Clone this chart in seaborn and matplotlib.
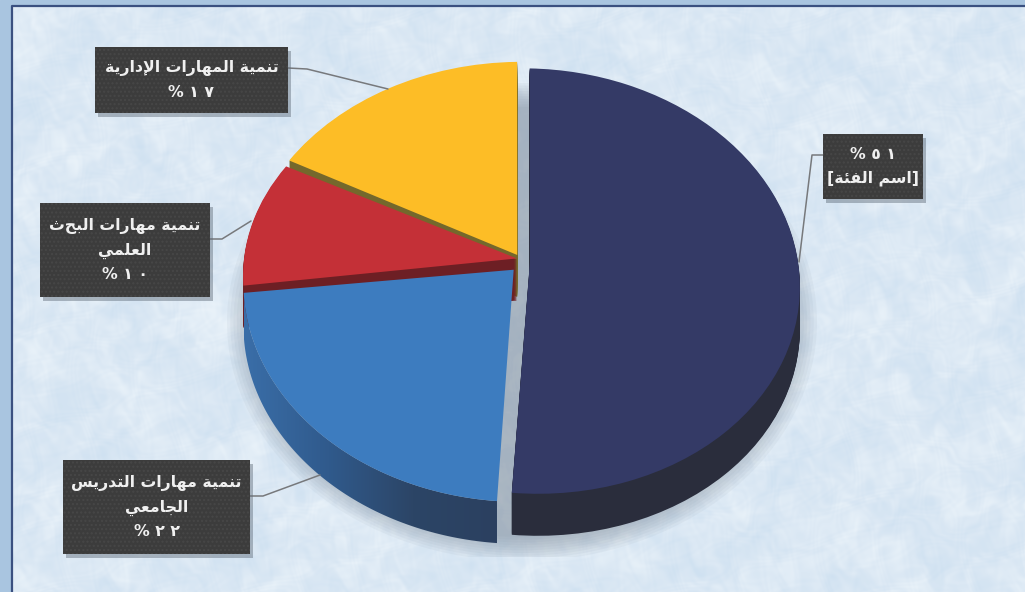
import numpy as np
import matplotlib
matplotlib.use("Agg")
import matplotlib.pyplot as plt
from matplotlib.colors import LinearSegmentedColormap
from matplotlib.patches import Rectangle, Ellipse, Polygon
from matplotlib.transforms import Transform, Affine2D
import seaborn as sns

# ---- data ----
categories = [
    ["[اسم الفئة]"],
    ["تنمية مهارات التدريس", "الجامعي"],
    ["تنمية مهارات البحث", "العلمي"],
    ["تنمية المهارات الإدارية"],
]
values = [51, 22, 10, 17]
percent_first = [True, False, False, False]
explode = [0.012, 0.018, 0.015, 0.028]
top_colors = ["#343a66", "#3d7cbf", "#c43037", "#fdbd26"]
wall_colors = ["#2a2d3c", "#2c4566", "#6d1f24", "#74682c"]
label_boxes = [(823, 134, 100, 65), (63, 460, 187, 94), (40, 203, 170, 94), (95, 47, 193, 66)]
leaders = [
    [(823, 155), (812, 155), (799, 262)],
    [(250, 496), (263, 496), (320, 475)],
    [(210, 239), (222, 239), (251, 221)],
    [(288, 68), (307, 69), (388, 89)],
]
# per-slice perspective correction about the pie centre: sx, a, e, b, sy, f
slice_tweaks = [
    (0.975, 0.0333, 6.7, 0.0, 1.0, 0.0),
    (0.98, 0.043, -3.0, -0.007, 1.0, 5.0),
    (0.995, 0.049, 1.0, -0.025, 0.96, -3.0),
    (0.99, 0.036, 1.1, -0.0308, 1.0, -2.0),
]

# ---- minimal Arabic shaping (visual-order presentation forms) ----
FORMS = {
    "ا": "ﺍﺎ", "إ": "ﺇﺈ", "د": "ﺩﺪ", "ر": "ﺭﺮ", "ة": "ﺓﺔ",
    "ت": "ﺕﺖﺗﺘ", "ن": "ﻥﻦﻧﻨ", "م": "ﻡﻢﻣﻤ", "ي": "ﻱﻲﻳﻴ", "ل": "ﻝﻞﻟﻠ",
    "ه": "ﻩﻪﻫﻬ", "ب": "ﺏﺐﺑﺒ", "ح": "ﺡﺢﺣﺤ", "ع": "ﻉﻊﻋﻌ", "ج": "ﺝﺞﺟﺠ",
    "س": "ﺱﺲﺳﺴ", "ف": "ﻑﻒﻓﻔ", "ئ": "ﺉﺊﺋﺌ",
}
LAM_ALEF = {"ا": "ﻻﻼ", "إ": "ﻹﻺ"}


def shape(text):
    out = []
    i = 0
    prev_joins = False
    while i < len(text):
        c = text[i]
        if c not in FORMS:
            out.append(c)
            prev_joins = False
            i += 1
            continue
        if c == "ل" and i + 1 < len(text) and text[i + 1] in LAM_ALEF:
            out.append(LAM_ALEF[text[i + 1]][1 if prev_joins else 0])
            prev_joins = False
            i += 2
            continue
        f = FORMS[c]
        next_ok = i + 1 < len(text) and text[i + 1] in FORMS
        can_join = len(f) == 4
        if prev_joins and can_join and next_ok:
            out.append(f[3])
        elif prev_joins:
            out.append(f[1])
        elif can_join and next_ok:
            out.append(f[2])
        else:
            out.append(f[0])
        prev_joins = can_join
        i += 1
    return "".join(out)[::-1]


def visual_line(line):
    if line.startswith("["):
        return "[" + shape(line[1:-1]) + "]"
    return shape(line)


def pct_line(v):
    digits = str(v).translate(str.maketrans("0123456789", "٠١٢٣٤٥٦٧٨٩"))
    return "% " + " ".join(digits)


# ---- perspective disc ----
class Perspective(Transform):
    input_dims = 2
    output_dims = 2
    is_separable = False
    has_inverse = False

    def __init__(self, cx, cy, rx, ry, k):
        super().__init__()
        self.p = (cx, cy, rx, ry, k)

    def transform_non_affine(self, xy):
        cx, cy, rx, ry, k = self.p
        xy = np.asarray(xy, dtype=float)
        w = 1 + k * xy[:, 1]
        return np.column_stack([cx + rx * xy[:, 0] / w, cy - ry * xy[:, 1] / w])


CX, CY = 520, 262


def tweak(params):
    sx, a, e, b, sy, f = params
    return (Affine2D().translate(-CX, -CY)
            + Affine2D.from_values(sx, b, a, sy, e, f)
            + Affine2D().translate(CX, CY))


sns.set_theme(style="white")
plt.rcParams["font.family"] = ["DejaVu Sans"]
fig = plt.figure(figsize=(10.25, 5.92), dpi=100)
ax = fig.add_axes([0, 0, 1, 1])
W, H = 1025, 592

# ---- background ----
ax.add_patch(Rectangle((0, 0), W, H, color="#a9c5e0", zorder=0))
yy, xx = np.mgrid[0:H:1, 0:W:1]
wx = 9 * np.sin(yy / 14 + 2 * np.sin(xx / 33)) + 6 * np.sin(yy / 5.3 + xx / 17)
wy = 9 * np.sin(xx / 12 + 2 * np.sin(yy / 27)) + 6 * np.sin(xx / 4.7 - yy / 19)
tex = (np.sin((xx + wx) / 37 + np.sin((yy + wy) / 23) * 2.7)
       + np.sin((yy + wy) / 29 + np.sin((xx + wx) / 41) * 3.1)
       + 0.7 * np.sin((xx + wx + 0.6 * yy) / 7 + 3 * np.sin((xx + wy) / 19 + yy / 31))
       + 0.7 * np.sin((yy + wy - 0.7 * xx) / 6 + 3 * np.sin((yy + wx) / 13 - xx / 27))
       + 0.4 * np.sin((xx + 2 * wy) / 2.7) + 0.4 * np.sin((yy + 2 * wx) / 2.3))
bg_cmap = LinearSegmentedColormap.from_list("bg", ["#cfe1f1", "#dbe8f4", "#e9f2f9"])
ax.imshow(tex, extent=(12, W, H, 6), cmap=bg_cmap, aspect="auto", zorder=1, interpolation="bilinear")
ax.plot([11.5, 11.5, W], [H, 5.5, 5.5], color="#3a5080", lw=1.6, zorder=2, solid_capstyle="butt")

# ---- soft shadow under the pie ----
clip = Rectangle((0, 0), W, 557, transform=ax.transData)
for s in np.linspace(1.0, 0.9, 10):
    e = Ellipse((522, 322), 590 * s, 478 * s, color="#7d8a99", alpha=0.07, lw=0, zorder=3)
    ax.add_patch(e)
    e.set_clip_path(clip)

# ---- pie ----
persp = Perspective(CX, CY, 275, 211, 0.089)
depth = 42
order = [6, 4, 2, 0]  # yellow at the back, then red, blue, navy
red_wall_clip = Rectangle((245, 0), 269, H, transform=ax.transData)
for d in range(depth, -1, -1):
    colors = top_colors if d == 0 else wall_colors
    wedges, _ = ax.pie(values, colors=colors, startangle=88.5, counterclock=False, explode=explode,
                       wedgeprops={"linewidth": 0}, normalize=True)
    for w, z0, tw in zip(wedges, order, slice_tweaks):
        w.set_transform(persp + tweak(tw) + Affine2D().translate(0, d) + ax.transData)
        w.set_zorder(10 + z0 + (1 if d == 0 else 0))
    if d == 0:
        top_wedges = wedges
    else:
        wedges[1].set_visible(False)          # the blue wall is drawn as the rim band below
        wedges[2].set_clip_path(red_wall_clip)

# gradient side wall of the blue slice
bw = top_wedges[1]
t = np.radians(np.linspace(bw.theta1, bw.theta2, 80))
unit = np.column_stack([bw.center[0] + np.cos(t), bw.center[1] + np.sin(t)])
rim = tweak(slice_tweaks[1]).transform(persp.transform(unit))
outline = np.vstack([rim, (rim + [0, depth])[::-1]])
grad = LinearSegmentedColormap.from_list("w", ["#3a6ea8", "#305a8c", "#2c4566", "#2b4060"])
im = ax.imshow(np.linspace(0, 1, 256)[None, :], extent=(rim[:, 0].min(), rim[:, 0].max(), 560, 280),
               cmap=grad, aspect="auto", zorder=14.5)
im.set_clip_path(Polygon(outline, transform=ax.transData))

# ---- callouts ----
for cat, v, first, box, lead in zip(categories, values, percent_first, label_boxes, leaders):
    x, y, w, h = box
    ax.plot(*zip(*lead), color="#77797c", lw=1.1, zorder=30)
    ax.add_patch(Rectangle((x + 3, y + 4), w, h, color="#5f6b78", alpha=0.45, lw=0, zorder=31))
    ax.add_patch(Rectangle((x, y), w, h, facecolor="#3c3c3c", edgecolor="#474747", hatch="....", lw=0, zorder=32))
    lines = [visual_line(s) for s in cat]
    lines = [pct_line(v)] + lines if first else lines + [pct_line(v)]
    ax.text(x + w / 2, y + h / 2, "\n".join(lines), color="#f0f0f0", ha="center", va="center",
            fontsize=11.3, fontweight="bold", linespacing=1.72, zorder=33)

ax.set_aspect("auto")
ax.set_xlim(0, W)
ax.set_ylim(H, 0)
ax.axis("off")
fig.savefig("out.png", dpi=100)
